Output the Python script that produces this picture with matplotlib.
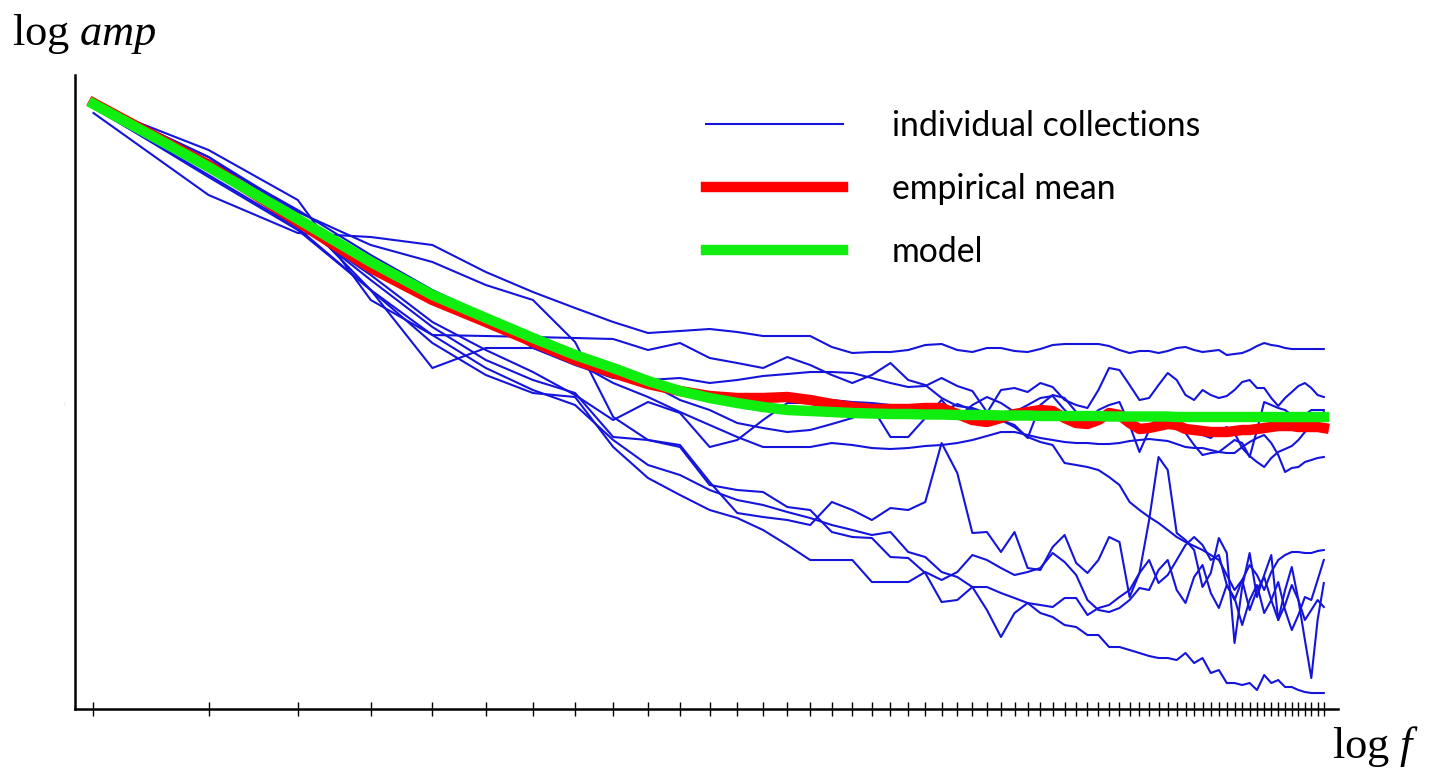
import numpy as np
import matplotlib.pyplot as plt
from matplotlib.lines import Line2D

# frequency bins (x axis is log f)
freqs = np.arange(3, 66)

# log amplitude of each individual collection, one value per frequency bin
coll_1 = [-1.13, -1.95, -2.33, -2.37, -2.45, -2.72, -2.92, -3.08,
          -3.22, -3.33, -3.31, -3.29, -3.32, -3.36, -3.36, -3.36, -3.47, -3.53,
          -3.52, -3.52, -3.50, -3.45, -3.44, -3.50, -3.52, -3.48, -3.48, -3.51,
          -3.52, -3.49, -3.45, -3.44, -3.44, -3.44, -3.44, -3.46, -3.50, -3.53,
          -3.51, -3.51, -3.53, -3.51, -3.48, -3.47, -3.50, -3.52, -3.51, -3.50,
          -3.55, -3.54, -3.53, -3.50, -3.46, -3.43, -3.45, -3.46, -3.48, -3.49,
          -3.49, -3.49, -3.49, -3.49, -3.49]
coll_2 = [-1.05, -1.50, -2.00, -3.00, -3.35, -3.36, -3.37, -3.38,
          -3.39, -3.50, -3.43, -3.58, -3.63, -3.68, -3.57, -3.65, -3.75, -3.83,
          -3.75, -3.63, -3.80, -3.85, -3.98, -4.06, -4.08, -4.13, -3.90, -3.88,
          -3.92, -3.83, -3.87, -4.00, -4.05, -4.08, -3.90, -3.68, -3.70, -3.85,
          -4.00, -3.98, -3.85, -3.73, -3.80, -3.95, -4.00, -3.90, -3.95, -3.98,
          -3.96, -3.90, -3.82, -3.80, -3.88, -3.88, -3.98, -4.06, -3.98, -3.92,
          -3.86, -3.83, -3.88, -3.95, -3.97]
coll_3 = [-1.05, -1.60, -2.10, -2.55, -2.90, -3.15, -3.48, -3.65,
          -3.78, -3.80, -3.78, -3.83, -3.80, -3.76, -3.74, -3.72, -3.72, -3.73,
          -3.78, -3.83, -3.87, -3.86, -3.78, -3.86, -3.91, -4.12, -4.20, -4.25,
          -4.38, -4.05, -3.95, -3.98, -4.12, -4.20, -4.10, -4.05, -4.02, -4.25,
          -4.52, -4.30, -4.13, -4.17, -4.23, -4.33, -4.45, -4.55, -4.53, -4.52,
          -4.46, -4.40, -4.43, -4.57, -4.30, -4.02, -4.05, -4.08, -4.10, -4.15,
          -4.20, -4.15, -4.10, -4.10, -4.10]
coll_4 = [-1.03, -1.63, -2.18, -2.62, -3.00, -3.25, -3.45, -3.62,
          -3.83, -3.97, -4.12, -4.25, -4.37, -4.47, -4.47, -4.47, -4.43, -4.45,
          -4.48, -4.49, -4.48, -4.46, -4.45, -4.43, -4.40, -4.36, -4.32, -4.32,
          -4.35, -4.38, -4.40, -4.42, -4.43, -4.43, -4.44, -4.44, -4.43, -4.41,
          -4.40, -4.39, -4.40, -4.41, -4.44, -4.47, -4.48, -4.48, -4.50, -4.52,
          -4.53, -4.53, -4.47, -4.42, -4.38, -4.35, -4.43, -4.55, -4.72, -4.68,
          -4.67, -4.62, -4.60, -4.58, -4.57]
coll_5 = [-1.08, -1.70, -2.25, -2.75, -3.22, -3.50, -3.72, -3.95,
          -4.20, -4.02, -4.13, -4.47, -4.40, -4.20, -4.03, -4.03, -4.00, -4.02,
          -4.03, -4.05, -4.05, -4.08, -4.12, -4.04, -4.10, -4.13, -4.20, -4.27,
          -4.37, -4.42, -4.45, -4.63, -4.65, -4.67, -4.70, -4.77, -4.85, -5.02,
          -5.10, -5.17, -5.23, -5.30, -5.37, -5.42, -5.46, -5.50, -5.55, -5.60,
          -5.75, -5.90, -5.80, -5.65, -5.75, -5.90, -5.72, -5.60, -5.55, -5.52,
          -5.52, -5.53, -5.53, -5.51, -5.50]
coll_6 = [-1.03, -1.57, -2.12, -2.45, -2.62, -2.85, -3.00, -3.42,
          -4.17, -4.40, -4.45, -4.82, -5.13, -5.17, -5.20, -5.25, -5.02, -5.10,
          -5.20, -5.08, -5.10, -5.02, -4.43, -4.73, -5.33, -5.32, -5.52, -5.32,
          -5.68, -5.70, -5.47, -5.35, -5.63, -5.73, -5.60, -5.37, -5.42, -5.97,
          -5.73, -5.60, -5.83, -5.75, -5.60, -5.45, -5.37, -5.45, -5.60, -5.55,
          -5.85, -6.00, -5.80, -6.10, -5.90, -5.77, -6.00, -6.20, -6.05, -5.85,
          -6.00, -6.40, -6.78, -6.20, -5.83]
coll_7 = [-1.05, -1.68, -2.22, -2.80, -3.27, -3.60, -3.80, -3.93,
          -4.37, -4.40, -4.47, -4.85, -4.90, -4.92, -5.07, -5.10, -5.32, -5.37,
          -5.38, -5.57, -5.58, -5.73, -6.02, -6.00, -5.87, -6.10, -6.37, -6.13,
          -6.03, -6.05, -6.07, -5.98, -5.98, -6.15, -6.08, -6.05, -5.97, -5.90,
          -5.73, -5.20, -4.57, -4.70, -5.33, -5.40, -5.50, -5.87, -5.73, -5.38,
          -5.53, -6.43, -5.87, -5.53, -5.97, -5.75, -5.55, -6.20, -5.90, -5.67,
          -6.00, -6.20, -6.10, -6.00, -6.07]
coll_8 = [-1.08, -1.75, -2.28, -2.90, -3.35, -3.68, -3.90, -4.05,
          -4.40, -4.65, -4.75, -4.90, -5.00, -5.05, -5.12, -5.18, -5.25, -5.30,
          -5.35, -5.32, -5.52, -5.57, -5.72, -5.77, -5.87, -5.87, -5.93, -5.98,
          -6.03, -6.13, -6.17, -6.25, -6.27, -6.35, -6.35, -6.47, -6.47, -6.50,
          -6.53, -6.56, -6.58, -6.58, -6.60, -6.53, -6.63, -6.58, -6.73, -6.70,
          -6.83, -6.83, -6.85, -6.83, -6.90, -6.75, -6.83, -6.80, -6.87, -6.87,
          -6.90, -6.92, -6.93, -6.93, -6.93]
coll_9 = [-1.07, -1.77, -2.30, -2.90, -3.43, -3.75, -3.93, -3.97,
          -4.47, -4.78, -4.95, -5.10, -5.18, -5.30, -5.45, -5.60, -5.60, -5.60,
          -5.82, -5.82, -5.82, -5.72, -5.80, -5.72, -5.55, -5.60, -5.68, -5.75,
          -5.72, -5.68, -5.53, -5.62, -5.75, -6.00, -6.10, -6.12, -6.08, -6.00,
          -5.88, -5.90, -5.70, -5.60, -5.90, -6.03, -5.77, -5.65, -5.93, -6.08,
          -5.85, -5.98, -6.25, -6.00, -5.85, -6.13, -6.00, -5.82, -6.10, -6.30,
          -6.15, -5.97, -6.00, -5.80, -5.60]
coll_10 = [-1.03, -1.57, -2.15, -2.90, -3.68, -3.48, -3.48, -3.52,
           -3.65, -3.83, -4.00, -4.10, -4.23, -4.28, -4.32, -4.30, -4.24, -4.18,
           -4.07, -4.37, -4.37, -4.18, -4.00, -4.18, -4.05, -3.97, -4.03, -4.12,
           -4.05, -3.98, -3.96, -4.10, -4.20, -4.27, -4.20, -4.18, -4.20, -4.19,
           -4.20, -4.18, -4.22, -4.25, -4.27, -4.28, -4.32, -4.35, -4.38, -4.31,
           -4.27, -4.33, -4.48, -4.56, -4.62, -4.67, -4.58, -4.52, -4.49, -4.46,
           -4.40, -4.32, -4.25, -4.18, -4.12]
collections = [coll_1, coll_2, coll_3, coll_4, coll_5,
               coll_6, coll_7, coll_8, coll_9, coll_10]

empirical_mean = [-1.03, -1.65, -2.22, -2.68, -3.00, -3.22, -3.42, -3.60,
                  -3.73, -3.84, -3.91, -3.96, -3.98, -3.98, -3.97, -4.00, -4.04, -4.07,
                  -4.09, -4.09, -4.09, -4.08, -4.08, -4.14, -4.20, -4.22, -4.18, -4.14,
                  -4.12, -4.10, -4.11, -4.18, -4.23, -4.24, -4.20, -4.13, -4.15, -4.23,
                  -4.29, -4.28, -4.26, -4.24, -4.25, -4.29, -4.30, -4.31, -4.32, -4.32,
                  -4.32, -4.31, -4.30, -4.30, -4.29, -4.28, -4.27, -4.26, -4.26, -4.26,
                  -4.27, -4.27, -4.27, -4.27, -4.28]

model = [-1.04, -1.67, -2.19, -2.62, -2.95, -3.18, -3.38, -3.55,
         -3.68, -3.81, -3.91, -3.98, -4.03, -4.07, -4.10, -4.11, -4.12, -4.13,
         -4.135, -4.14, -4.14, -4.145, -4.145, -4.15, -4.15, -4.15, -4.155, -4.155,
         -4.155, -4.16, -4.16, -4.16, -4.16, -4.16, -4.16, -4.165, -4.165, -4.165,
         -4.165, -4.165, -4.165, -4.165, -4.17, -4.17, -4.17, -4.17, -4.17, -4.17,
         -4.17, -4.17, -4.17, -4.17, -4.17, -4.17, -4.17, -4.17, -4.17, -4.17,
         -4.17, -4.17, -4.17, -4.17, -4.17]

plt.rcParams['mathtext.fontset'] = 'custom'
plt.rcParams['mathtext.rm'] = 'Liberation Serif'
plt.rcParams['mathtext.it'] = 'Liberation Serif:italic'

x = np.log(freqs)

fig = plt.figure(figsize=(14.44, 7.70), dpi=100)
ax = fig.add_axes([0.0519, 0.0792, 0.8747, 0.8234])

for c in collections:
    ax.plot(x, c, color='#1414dc', lw=1.5, zorder=2)
ax.plot(x, empirical_mean, color='#ff0000', lw=7.5, zorder=3)
ax.plot(x, model, color='#10ee10', lw=7.5, zorder=4)

ax.set_xlim(1.0523, 4.2099)
ax.set_ylim(-7.09, -0.75)

for side in ['top', 'right']:
    ax.spines[side].set_visible(False)
for side in ['left', 'bottom']:
    ax.spines[side].set_linewidth(1.8)
    ax.spines[side].set_color('black')

ax.set_xticks(x)
ax.set_yticks([])
ax.tick_params(axis='x', direction='inout', length=10, width=1.0,
               labelbottom=False, color='black')

handles = [Line2D([], [], color='#1414dc', lw=1.5),
           Line2D([], [], color='#ff0000', lw=7.5),
           Line2D([], [], color='#10ee10', lw=7.5)]
labels = ['individual collections', 'empirical mean', 'model']
ax.legend(handles, labels, loc='upper left',
          bbox_to_anchor=(706 / 1444, 1 - 110 / 770),
          bbox_transform=fig.transFigure, frameon=False,
          prop={'family': 'Lato', 'size': 24.3},
          handlelength=4.05, handletextpad=1.45, labelspacing=0.92,
          borderpad=0, borderaxespad=0)

fig.text(12 / 1444, 1 - 45 / 770, r'$\log\, amp$', fontsize=32, va='baseline')
fig.text(1332 / 1444, 1 - 758 / 770, r'$\log\, f$', fontsize=32, va='baseline')
fig.text(63 / 1444, 1 - 405 / 770, ':', fontsize=4, color='#888888')

fig.savefig('out.png', dpi=100)
